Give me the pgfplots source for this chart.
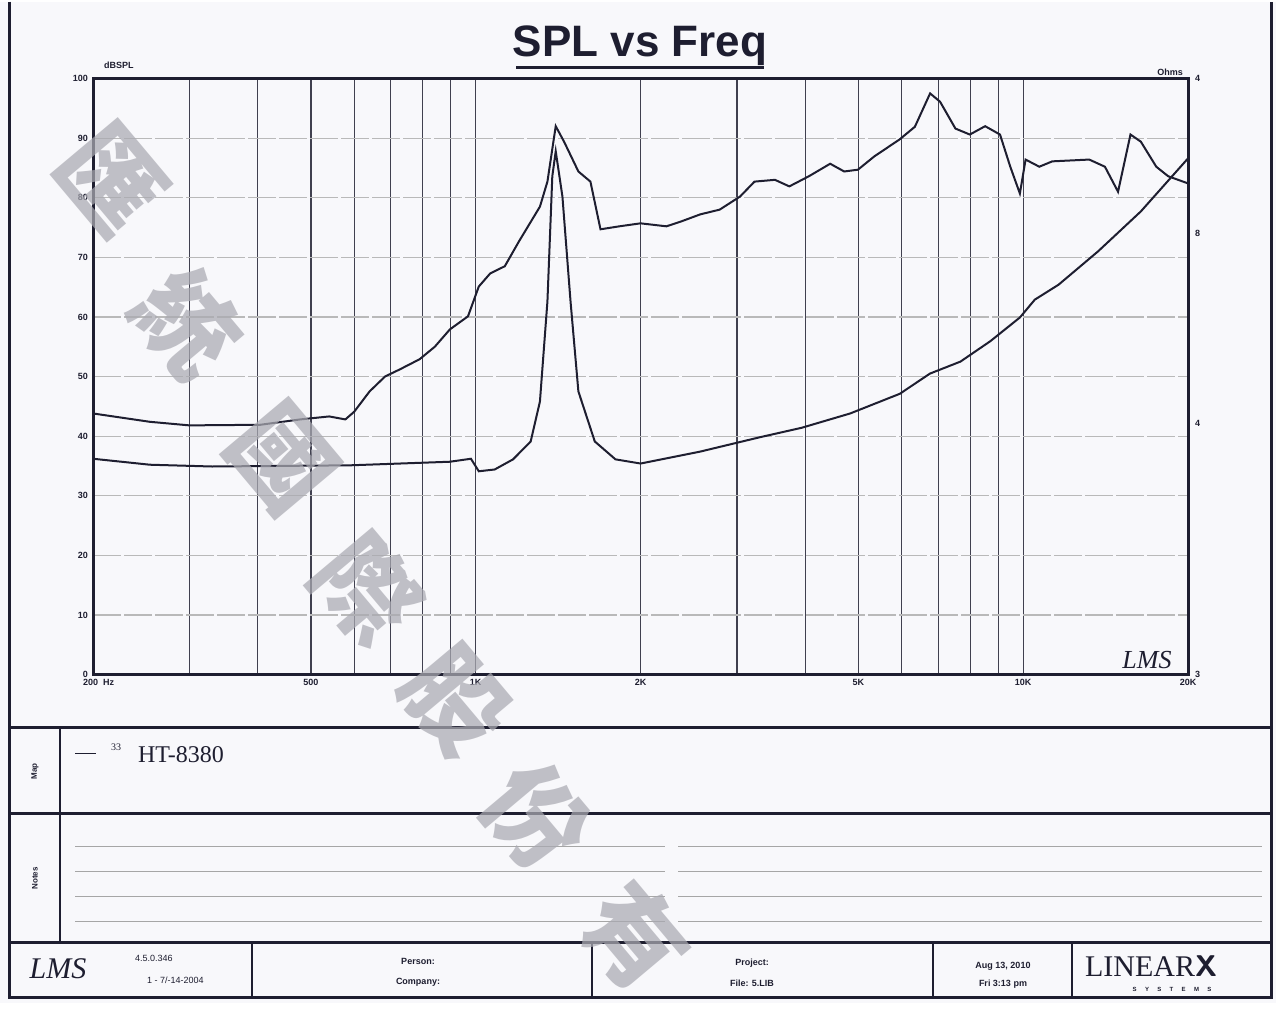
\documentclass[border=0pt]{standalone}
\usepackage{pgfplots}
\pgfplotsset{compat=1.18}
\usepackage{fontspec}
\setmainfont{Liberation Sans}
\newfontfamily\serif{Liberation Serif}
\newfontfamily\cjk{Noto Sans CJK TC}
\definecolor{ink}{RGB}{30,30,48}
\definecolor{wm}{RGB}{170,170,178}
\definecolor{paper}{RGB}{248,248,251}
\begin{document}
\begin{tikzpicture}
\begin{scope}[x=0.5pt,y=-0.5pt]
\fill[paper] (0,0) rectangle (1276,1001);
\useasboundingbox (0,0) rectangle (1276,1001);
\end{scope}

\begin{axis}[
  at={(46.5pt,-336.5pt)}, anchor=south west, scale only axis,
  width=547.5pt, height=298pt,
  xmode=log, xmin=200, xmax=20000, ymin=0, ymax=100,
  axis line style={ink, line width=1.5pt},
  xtick={200,500,1000,2000,5000,10000,20000},
  xticklabels={\makebox[0pt][l]{\hspace{-5pt}200\ \ Hz},500,1K,2K,5K,10K,20K},
  minor xtick={300,400,600,700,800,900,3000,4000,6000,7000,8000,9000},
  ytick={0,10,...,100},
  xmajorgrids, xminorgrids, ymajorgrids,
  x grid style={ink!85, line width=0.6pt},
  minor x grid style={ink!85, line width=0.6pt},
  y grid style={gray!55, line width=0.6pt, dash pattern=on 14pt off 1.5pt},
  tick style={draw=none},
  /pgf/number format/assume math mode=true,
  ticklabel style={font=\fontsize{4.5}{5}\selectfont\bfseries, text=ink},
  xticklabel style={yshift=1pt},
  yticklabel style={xshift=1pt},
  clip=false,
]
\addplot[ink, line width=1pt] coordinates {
(200,43.8) (254,42.4) (300,41.8) (404,41.9) (478,42.8) (540,43.3) (578,42.8) (600,44.1) (640,47.5) (683,50) (727,51.2) (790,52.9) (842,55) (897,57.9) (968,60.1) (1013,65.1) (1063,67.3) (1130,68.5) (1200,72.7) (1310,78.5) (1352,82.7) (1400,92) (1450,89.4) (1540,84.4) (1620,82.7) (1690,74.7) (1830,75.2) (2000,75.7) (2230,75.2) (2370,76) (2570,77.2) (2790,78) (3040,80.2) (3230,82.7) (3520,83) (3740,81.9) (4060,83.6) (4440,85.7) (4710,84.4) (4990,84.7) (5340,86.9) (5950,89.8) (6340,91.9) (6760,97.5) (7050,96.1) (7520,91.6) (7990,90.6) (8520,92) (9070,90.6) (9470,85.2) (9860,80.7) (10100,86.4) (10700,85.2) (11300,86.1) (13200,86.4) (14100,85.2) (14900,81) (15700,90.6) (16400,89.4) (17500,85.2) (18400,83.6) (20000,82.4)
};
\end{axis}

\begin{axis}[
  at={(46.5pt,-336.5pt)}, anchor=south west, scale only axis,
  width=547.5pt, height=298pt,
  xmode=log, xmin=200, xmax=20000, ymin=0, ymax=100,
  axis x line=none, axis y line*=right,
  axis line style={ink, line width=1.5pt},
  ytick={0,42.1,74,100}, yticklabels={3,4,8,4},
  tick style={draw=none},
  /pgf/number format/assume math mode=true,
  ticklabel style={font=\fontsize{4.5}{5}\selectfont\bfseries, text=ink},
  clip=false,
]
\addplot[ink, line width=1pt] coordinates {
(200,36.2) (254,35.2) (330,34.9) (590,35.1) (897,35.7) (980,36.2) (1013,34.1) (1083,34.4) (1170,36.1) (1260,39.1) (1310,45.8) (1352,62.6) (1380,83.6) (1400,87.8) (1440,80.2) (1490,62.6) (1540,47.5) (1650,39.1) (1800,36.1) (2000,35.4) (2570,37.4) (3300,39.8) (3940,41.4) (4830,43.8) (5950,47.1) (6760,50.5) (7680,52.5) (8700,55.9) (9860,59.9) (10500,62.9) (11600,65.4) (13700,71) (16400,77.7) (20000,86.6)
};
\end{axis}

\begin{scope}[x=0.5pt,y=-0.5pt]
% labels around plot
\node[text=ink, font=\fontsize{4.5}{5}\selectfont\bfseries, anchor=west] at (97,64) {dBSPL};
\node[text=ink, font=\fontsize{4.5}{5}\selectfont\bfseries] at (1170,71) {Ohms};
\node[text=ink, font=\serif\itshape\fontsize{13}{14}\selectfont] at (1147,659) {LMS};

% title
\node[text=ink, font=\bfseries\fontsize{22}{24}\selectfont] at (640,44) {SPL vs Freq};
\draw[ink, line width=1.4pt] (516,66) -- (764,66);

% form frame
\draw[ink, line width=1.5pt] (9,0) -- (9,996) -- (1271,996) -- (1271,0);
\draw[ink, line width=1.5pt] (9,726) -- (1271,726);
\draw[ink, line width=1.2pt] (9,812) -- (1271,812);
\draw[ink, line width=1.5pt] (9,941) -- (1271,941);
\draw[ink, line width=1.2pt] (60,726) -- (60,941);
\node[text=ink, rotate=90, font=\fontsize{4}{5}\selectfont\bfseries] at (35,770) {Map};
\node[text=ink, rotate=90, font=\fontsize{4}{5}\selectfont\bfseries] at (35,877) {Notes};

% legend
\draw[ink, line width=0.6pt] (75,752) -- (96,752);
\node[text=ink, font=\serif\fontsize{5}{6}\selectfont, anchor=west] at (104,746) {33};
\node[text=ink, font=\serif\fontsize{12}{14}\selectfont, anchor=west] at (131,753) {HT-8380};

% notes lines
\foreach \yy in {845,870,895,920}{
  \draw[gray!70, line width=0.6pt] (75,\yy) -- (665,\yy);
  \draw[gray!70, line width=0.6pt] (678,\yy) -- (1262,\yy);
}

% footer
\foreach \xx in {252,592,933,1072}{ \draw[ink, line width=1.2pt] (\xx,941) -- (\xx,996); }
\node[text=ink, font=\serif\itshape\fontsize{15}{16}\selectfont] at (58,967) {LMS};
\node[text=ink, font=\fontsize{4.5}{5}\selectfont, anchor=west] at (128,957) {4.5.0.346};
\node[text=ink, font=\fontsize{4.5}{5}\selectfont, anchor=west] at (140,979) {1 - 7/-14-2004};
\node[text=ink, font=\fontsize{4.5}{5}\selectfont\bfseries] at (418,960) {Person:};
\node[text=ink, font=\fontsize{4.5}{5}\selectfont\bfseries] at (418,981) {Company:};
\node[text=ink, font=\fontsize{4.5}{5}\selectfont\bfseries] at (752,962) {Project:};
\node[text=ink, font=\fontsize{4.5}{5}\selectfont\bfseries] at (752,982) {File: 5.LIB};
\node[text=ink, font=\fontsize{4.5}{5}\selectfont\bfseries] at (1003,965) {Aug 13, 2010};
\node[text=ink, font=\fontsize{4.5}{5}\selectfont\bfseries] at (1003,983) {Fri 3:13 pm};
\node[text=ink, font=\serif\fontsize{15}{16}\selectfont, anchor=west] at (1078,965) {LINEAR\textbf{\sffamily X}};
\node[text=ink, font=\fontsize{3}{4}\selectfont\bfseries] at (1172,988) {S\ \ \ \ \ Y\ \ \ \ \ S\ \ \ \ \ T\ \ \ \ \ E\ \ \ \ \ M\ \ \ \ \ S};

% watermark
\begin{scope}[opacity=0.72]
\foreach \ch/\px/\py in {匯/112/178, 統/188/322, 國/282/457, 際/368/588, 股/455/700, 份/537/815, 有/635/935}{
  \node[text=wm, rotate=-50, font=\cjk\bfseries\fontsize{50}{54}\selectfont] at (\px,\py) {\ch};
}
\end{scope}
\end{scope}
\end{tikzpicture}
\end{document}
